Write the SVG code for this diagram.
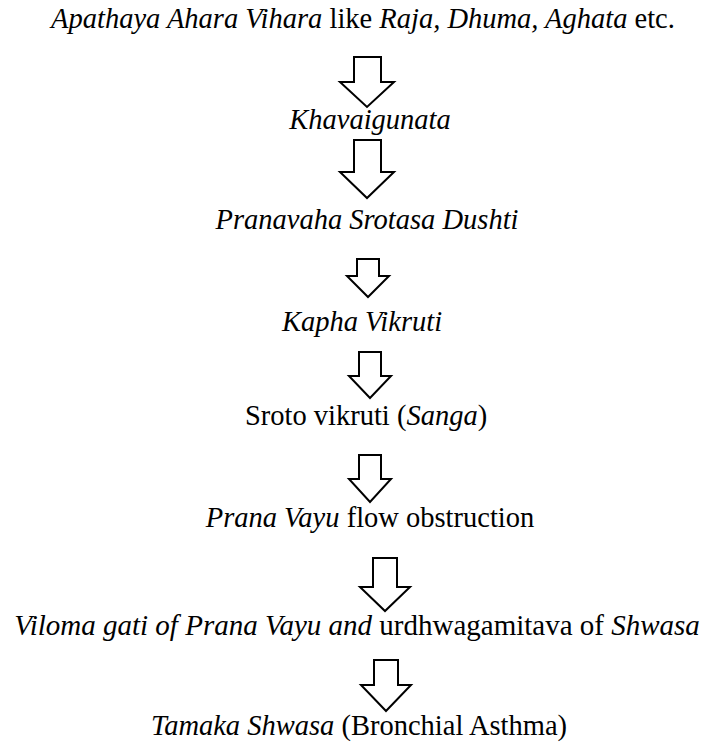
<svg xmlns="http://www.w3.org/2000/svg" width="710" height="743" viewBox="0 0 710 743">
<style>
.arr{fill:#fff;stroke:#000;stroke-width:2;stroke-linejoin:miter}
</style>
<rect width="710" height="743" fill="#fff"/>
<g id="n1"><text x="363" y="28" font-family="Liberation Serif" font-size="28.5" text-anchor="middle"><tspan font-family="Liberation Serif" font-style="italic">Apathaya Ahara Vihara</tspan> like <tspan font-family="Liberation Serif" font-style="italic">Raja, Dhuma, Aghata</tspan> etc.</text></g>
<g id="n2"><text x="370" y="129" font-family="Liberation Serif" font-size="28.5" text-anchor="middle" font-style="italic">Khavaigunata</text></g>
<g id="n3"><text x="367" y="229" font-family="Liberation Serif" font-size="28.5" text-anchor="middle" font-style="italic">Pranavaha Srotasa Dushti</text></g>
<g id="n4"><text x="362" y="331" font-family="Liberation Serif" font-size="28.5" text-anchor="middle" font-style="italic">Kapha Vikruti</text></g>
<g id="n5"><text x="366" y="425" font-family="Liberation Serif" font-size="28.5" text-anchor="middle">Sroto vikruti (<tspan font-family="Liberation Serif" font-style="italic">Sanga</tspan>)</text></g>
<g id="n6"><text x="370" y="527" font-family="Liberation Serif" font-size="28.5" text-anchor="middle"><tspan font-family="Liberation Serif" font-style="italic">Prana Vayu</tspan> flow obstruction</text></g>
<g id="n7"><text x="357" y="635" font-family="Liberation Serif" font-size="29" text-anchor="middle"><tspan font-family="Liberation Serif" font-style="italic">Viloma gati of Prana Vayu and</tspan> urdhwagamitava of <tspan font-family="Liberation Serif" font-style="italic">Shwasa</tspan></text></g>
<g id="n8"><text x="359" y="735" font-family="Liberation Serif" font-size="28.5" text-anchor="middle"><tspan font-family="Liberation Serif" font-style="italic">Tamaka Shwasa</tspan> (Bronchial Asthma)</text></g>
<g id="connectors">
<path class="arr" d="M354,57 H381 V82 H394 L367,107 L340,82 H354 Z"/>
<path class="arr" d="M354,140 H381 V172 H394 L367,198 L340,172 H354 Z"/>
<path class="arr" d="M357,259 H379 V276 H389 L368,297 L347,276 H357 Z"/>
<path class="arr" d="M359,352 H381 V376 H391 L370,398 L349,376 H359 Z"/>
<path class="arr" d="M359,455 H381 V479 H391 L370,502 L349,479 H359 Z"/>
<path class="arr" d="M373,558 H397 V587 H410 L385,611 L360,587 H373 Z"/>
<path class="arr" d="M374,660 H398 V685 H411 L386,711 L361,685 H374 Z"/>
</g>
</svg>
